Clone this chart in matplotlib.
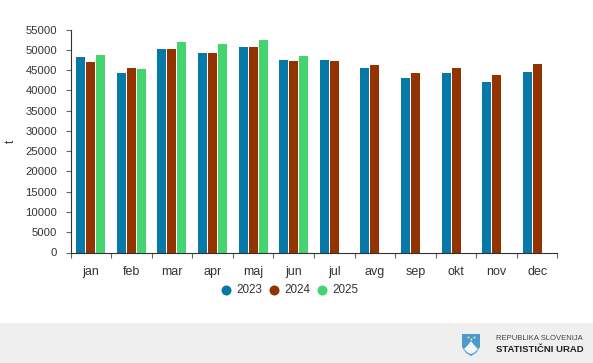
import numpy as np
import matplotlib
matplotlib.use('Agg')
import matplotlib.pyplot as plt
from matplotlib.patches import Polygon, Rectangle

months = ['jan', 'feb', 'mar', 'apr', 'maj', 'jun', 'jul', 'avg', 'sep', 'okt', 'nov', 'dec']
values_2023 = [48200, 44270, 50190, 49200, 50680, 47480, 47480, 45500, 43030, 44270, 42040, 44520]
values_2024 = [47060, 45500, 50190, 49200, 50680, 47230, 47230, 46240, 44270, 45500, 43780, 46490]
values_2025 = [48700, 45250, 51900, 51420, 52400, 48460]
years = ['2023', '2024', '2025']
colors = ['#0679A8', '#933300', '#44D570']
y_ticks = np.arange(0, 55001, 5000)

W, H = 593, 363
plt.rcParams['font.family'] = ['Liberation Sans', 'DejaVu Sans']
fig = plt.figure(figsize=(W / 100, H / 100), dpi=100)

# pixel box of the plot area
left, right, top, bottom = 70.5, 557.5, 29.5, 252.5
ax = fig.add_axes([left / W, 1 - bottom / H, (right - left) / W, (bottom - top) / H])

# bars are drawn group-wise, the 2025 slot stays empty for missing months
bar_w = 0.222
step = 0.247
for i, (vals, c) in enumerate(zip([values_2023, values_2024, values_2025], colors)):
    x = np.arange(len(vals)) + (i - 1) * step
    ax.bar(x, vals, width=bar_w, color=c, linewidth=0, zorder=2)

ax.set_xlim(-0.5, 11.5)
ax.set_ylim(0, 55000)
ax.set_yticks(y_ticks)
ax.set_xticks(np.arange(-0.5, 12, 1))
ax.set_xticklabels([])
ax.set_xticks(np.arange(12), minor=True)
ax.set_xticklabels(months, minor=True, fontsize=9, color='#333333')
ax.tick_params(axis='x', which='major', length=3.6, width=0.8, color='#666666')
ax.tick_params(axis='x', which='minor', length=0, pad=9.5)
ax.tick_params(axis='y', length=3.6, width=0.8, color='#666666', labelsize=8.1, labelcolor='#333333', pad=6)
ax.spines['top'].set_visible(False)
ax.spines['right'].set_visible(False)
ax.spines['left'].set_color('#333333')
ax.spines['bottom'].set_color('#333333')
fig.text(11 / W, 1 - 141 / H, 't', fontsize=8.5, color='#333333', rotation=90, ha='center', va='center')

# legend
overlay = fig.add_axes([0, 0, 1, 1], zorder=5)
overlay.set_xlim(0, W)
overlay.set_ylim(H, 0)
overlay.axis('off')
for lx, year, c in zip([226, 274, 322], years, colors):
    overlay.scatter([lx], [290], s=52, color=c, linewidths=0)
    overlay.text(lx + 10, 290, year, fontsize=8.4, color='#333333', va='center', ha='left')

# footer band with logo
overlay.add_patch(Rectangle((0, 323), W, 40, color='#EFEFEF', linewidth=0, zorder=0))
shield = [(462, 334), (480, 334), (480, 347), (476, 353), (471, 356), (466, 353), (462, 347)]
overlay.add_patch(Polygon(shield, closed=True, color='#4A9AD0', linewidth=0, zorder=1))
overlay.add_patch(Polygon([(464, 349), (468, 345), (471, 341), (474, 345), (478, 349), (474, 353), (471, 354), (468, 353)],
                          closed=True, color='#F4F7FA', linewidth=0, zorder=2))
overlay.scatter([468, 471, 474], [337, 339, 337], s=2, color='#F4E9A0', linewidths=0, zorder=3)
overlay.text(496, 339, 'REPUBLIKA SLOVENIJA', fontsize=5.5, color='#444444', va='center', ha='left')
overlay.text(496.5, 350, 'STATISTIČNI URAD', fontsize=6.8, color='#222222', fontweight='bold', va='center', ha='left')

fig.savefig('out.png', dpi=100)
